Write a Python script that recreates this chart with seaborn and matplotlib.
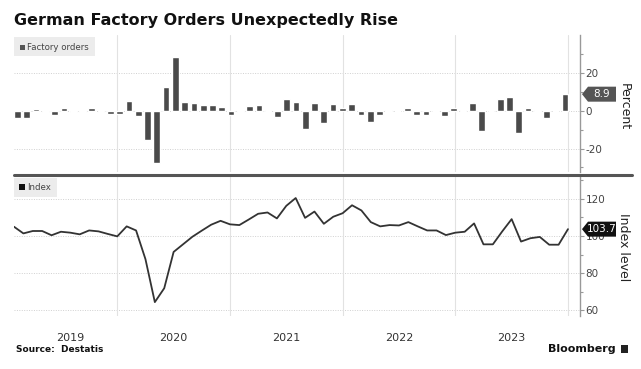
import numpy as np
import pandas as pd
import matplotlib
matplotlib.use("Agg")
import matplotlib.pyplot as plt
import matplotlib.transforms as mtransforms
from matplotlib.patches import Polygon, Rectangle
from matplotlib.lines import Line2D
import seaborn as sns

# ---------------- data ----------------
months = pd.date_range("2019-01-31", periods=60, freq="ME")
factory_orders = [-3.5, -3.5, 1.0, -0.3, -2.0, 1.5, -0.5, -0.6, 1.5, -0.3, -1.5, -1.4,
                  5.5, -2.5, -15.5, -27.7, 12.5, 28.8, 4.9, 4.4, 3.4, 3.4, 2.1, -2.1,
                  -0.5, 2.6, 3.2, 0.3, -3.2, 6.2, 4.6, -9.7, 4.1, -6.3, 3.7, 1.8,
                  3.9, -2.1, -5.8, -2.1, 0.3, -0.2, 1.8, -2.1, -2.1, -0.2, -2.6, 1.6,
                  0.3, 4.4, -10.6, -0.2, 6.2, 7.6, -11.5, 1.6, 0.3, -3.7, -0.2, 8.9]
index_level = [105.0, 101.4, 102.7, 102.7, 100.4, 102.3, 101.8, 100.9, 103.0, 102.5, 101.1, 99.8,
               105.2, 103.0, 87.5, 64.3, 71.8, 91.4, 95.5, 99.6, 102.9, 106.1, 108.2, 106.3,
               105.9, 108.9, 112.0, 112.7, 109.5, 116.3, 120.5, 109.8, 113.2, 106.6, 110.4, 112.3,
               116.6, 113.8, 107.5, 105.2, 105.9, 105.7, 107.5, 105.2, 103.0, 103.0, 100.5, 101.8,
               102.3, 106.8, 95.5, 95.5, 102.5, 109.1, 97.0, 98.8, 99.5, 95.3, 95.3, 103.7]
years = [2019, 2020, 2021, 2022, 2023]
top_ticks = [20, 0, -20]
bot_ticks = [120, 100, 80, 60]

title = "German Factory Orders Unexpectedly Rise"
source = "Source:  Destatis"

idx = np.array([(d.year - 2019) * 12 + d.month - 1 for d in months])

W, H = 641, 369
sns.set_theme(style="white")
plt.rcParams["font.family"] = ["DejaVu Sans"]
plt.rcParams["axes.unicode_minus"] = False

fig = plt.figure(figsize=(W / 100, H / 100), dpi=100)
fig.patch.set_facecolor("white")

def fx(px):
    return px / W

def fy(py):
    return 1 - py / H

left, right = 14, 580
ax_top = fig.add_axes([fx(left), fy(172), fx(right - left), fy(35) - fy(172)])
ax_bot = fig.add_axes([fx(left), fy(316), fx(right - left), fy(176) - fy(316)])

# ---------------- draw ----------------
df_top = pd.DataFrame({"i": idx, "v": factory_orders})
df_bot = pd.DataFrame({"i": idx, "v": index_level})
sns.barplot(data=df_top, x="i", y="v", ax=ax_top, color="#4a4a4a", saturation=1,
            width=0.72, errorbar=None, zorder=3)
sns.lineplot(data=df_bot, x="i", y="v", ax=ax_bot, color="#333333", linewidth=1.3, zorder=3)

ax_top.set_xlim(-0.38, 60.6)
ax_top.set_ylim(-32.4, 40.3)
ax_bot.set_xlim(0, 60.28)
ax_bot.set_ylim(56.8, 132.4)

for ax in (ax_top, ax_bot):
    ax.set_facecolor("white")
    for s in ("left", "top", "bottom"):
        ax.spines[s].set_visible(False)
    ax.spines["right"].set_color("#999999")
    ax.spines["right"].set_linewidth(1.0)
    ax.yaxis.tick_right()
    ax.tick_params(axis="y", which="both", direction="out", length=3, width=0.8,
                   color="#999999", labelsize=7.5, labelcolor="#444444", pad=1)
    ax.set_xlabel("")
    ax.set_ylabel("")
    ax.grid(False)

ax_top.set_xticks([])
ax_top.set_yticks(top_ticks)
ax_top.set_yticks([30, 10, -10, -30], minor=True)
ax_bot.set_yticks(bot_ticks)
ax_bot.set_yticks([130, 110, 90, 70], minor=True)
ax_top.tick_params(axis="y", which="minor", length=2, color="#999999")
ax_bot.tick_params(axis="y", which="minor", length=2, color="#999999")

for t in top_ticks:
    ax_top.axhline(t, color="#d0d0d0", lw=0.7, ls=(0, (1, 1.5)), zorder=1)
for t in bot_ticks:
    ax_bot.axhline(t, color="#d0d0d0", lw=0.7, ls=(0, (1, 1.5)), zorder=1)

# year boundaries (Dec month-end positions) in line coordinates
bounds = [12 * (y - 2019) + 11 for y in years]
blend_top = mtransforms.blended_transform_factory(ax_bot.transData, ax_top.transAxes)
for b in bounds:
    ax_bot.axvline(b, color="#e2e2e2", lw=0.8, zorder=1)
    ax_top.add_line(Line2D([b, b], [0, 1], transform=blend_top, color="#e2e2e2", lw=0.8, zorder=1))

# year labels
label_pos = [6] + [12 * (y - 2019) + 5 for y in years[1:]]
ax_bot.set_xticks(label_pos)
ax_bot.set_xticklabels([str(y) for y in years])
ax_bot.tick_params(axis="x", length=0, labelsize=8, labelcolor="#333333", pad=12)

# right axis labels
fig.text(fx(624), fy(107), "Percent", rotation=-90, ha="center", va="center",
         fontsize=9, color="#222222")
fig.text(fx(624), fy(247), "Index level", rotation=-90, ha="center", va="center",
         fontsize=9, color="#222222")

# separator line
fig.add_artist(Line2D([fx(14), fx(632)], [fy(175), fy(175)], color="#555555", lw=2.2))

# legends
fig.add_artist(Rectangle((fx(14), fy(56)), fx(81), fy(37) - fy(56), transform=fig.transFigure,
                         fc="#ececec", ec="none"))
fig.add_artist(Rectangle((fx(20), fy(49.5)), fx(5), fy(44.5) - fy(49.5), transform=fig.transFigure,
                         fc="#555555", ec="none"))
fig.text(fx(27), fy(47), "Factory orders", fontsize=6.2, color="#444444", va="center", ha="left")
fig.add_artist(Rectangle((fx(14), fy(197)), fx(43), fy(178) - fy(197), transform=fig.transFigure,
                         fc="#ececec", ec="none"))
fig.add_artist(Rectangle((fx(19), fy(190)), fx(6), fy(184) - fy(190), transform=fig.transFigure,
                         fc="#111111", ec="none"))
fig.text(fx(27), fy(187), "Index", fontsize=6.2, color="#444444", va="center", ha="left")

# value tags
def tag(ax, val, text, fc):
    yd = ax.transData.transform((0, val))[1]
    yf = fig.transFigure.inverted().transform((0, yd))[1]
    h = 7.5 / H
    x0, x1, x2 = fx(582), fx(588), fx(616)
    poly = Polygon([(x0, yf), (x1, yf + h), (x2, yf + h), (x2, yf - h), (x1, yf - h)],
                   closed=True, transform=fig.transFigure, fc=fc, ec="none", zorder=10)
    fig.add_artist(poly)
    fig.text((x1 + x2) / 2, yf, text, color="white", ha="center", va="center",
             fontsize=7.5, zorder=11)

tag(ax_top, factory_orders[-1], f"{factory_orders[-1]:.1f}", "#555555")
tag(ax_bot, index_level[-1], f"{index_level[-1]:.1f}", "#111111")

# title and footer
fig.text(fx(14), fy(21), title, fontsize=11.5, fontweight="bold", color="#111111",
         ha="left", va="center")
fig.text(fx(16), fy(350), source, fontsize=6.5, fontweight="bold", color="#111111",
         ha="left", va="center")
fig.text(fx(616), fy(349), "Bloomberg", fontsize=8, fontweight="bold", color="#111111",
         ha="right", va="center")
fig.add_artist(Rectangle((fx(621), fy(353)), fx(7), fy(345) - fy(353), transform=fig.transFigure,
                         fc="#222222", ec="none"))

fig.savefig("out.png", dpi=100)
